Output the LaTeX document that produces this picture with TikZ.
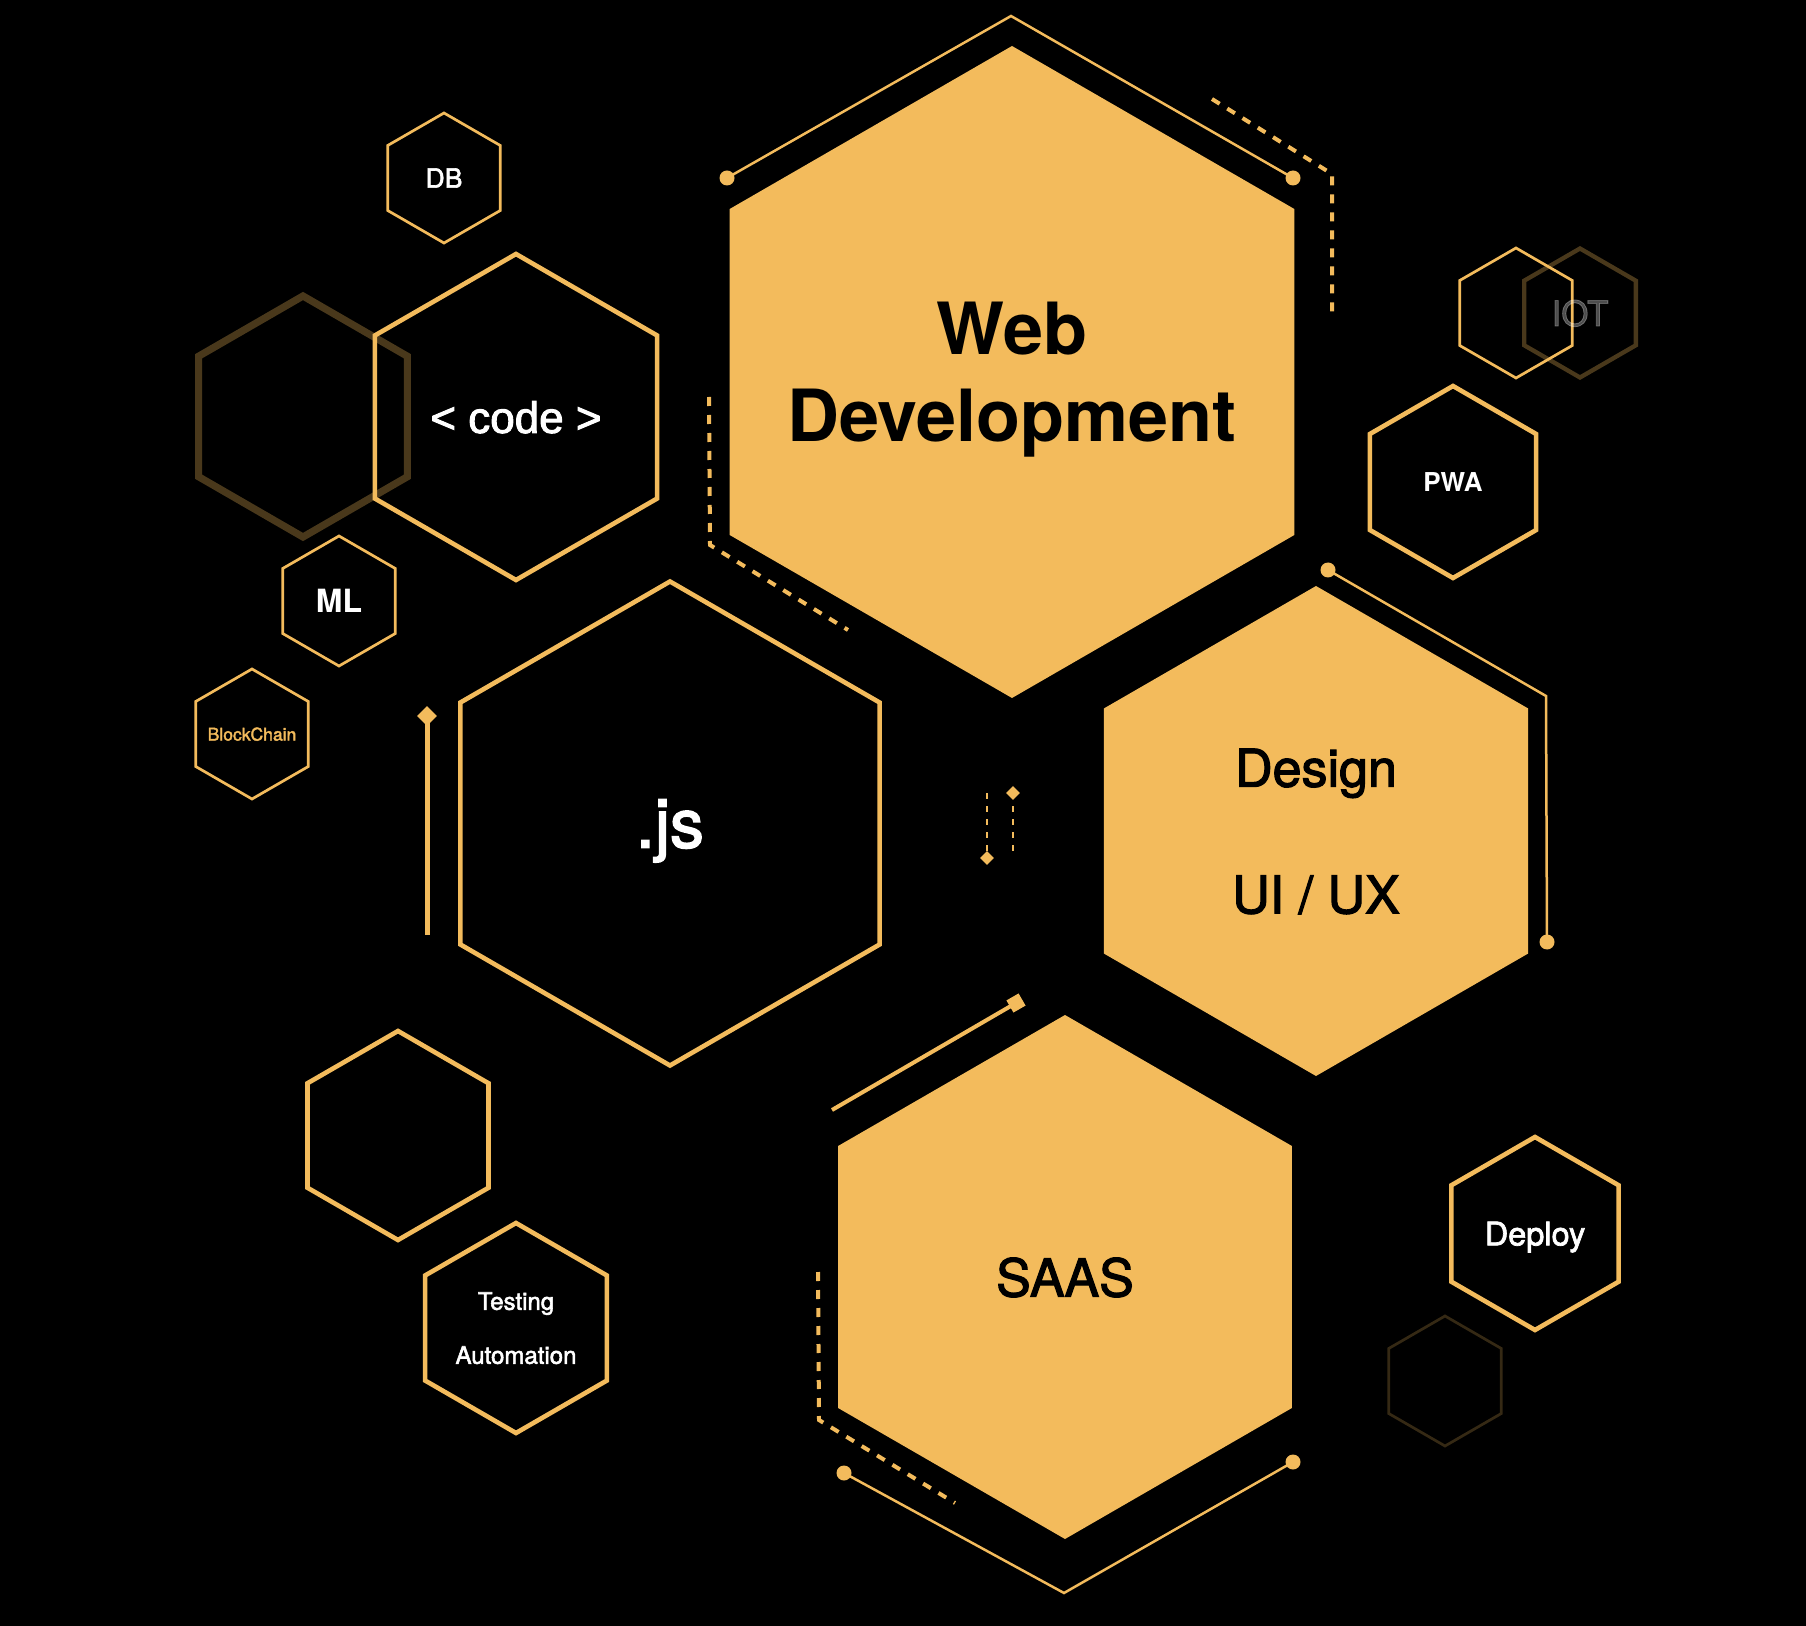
\documentclass[tikz,border=0pt]{standalone}
\usepackage{fontspec}
\setmainfont{TeX Gyre Heros}
\newfontfamily\mediumfont{TeX Gyre Heros}[FakeBold=2.2]
\newfontfamily\codefont{Liberation Sans}[FakeBold=2.2]
\usetikzlibrary{shapes.geometric, calc}
\definecolor{honey}{RGB}{243,187,92}

\tikzset{
  hexa/.style={regular polygon, regular polygon sides=6, shape border rotate=30,
    inner sep=0pt, minimum size=#1pt},
  tag/.style={inner sep=0pt, text depth=0pt, align=center, text=white},
  ring/.style={draw=honey, line width=2.3pt},
  thinring/.style={draw=honey, line width=1.35pt},
  ghost/.style={draw=honey, draw opacity=0.3, line width=3.6pt},
  filledhex/.style={fill=honey},
  trace/.style={honey, line width=1.25pt},
  dots/.style={honey, line width=2pt, dash pattern=on 4.5pt off 4.5pt},
  smalldots/.style={honey, line width=1.25pt, dash pattern=on 3pt off 3.5pt},
  dot/.style={circle, fill=honey, inner sep=0pt, minimum size=7.5pt},
  pin/.style={diamond, fill=honey, inner sep=0pt, minimum width=#1pt, minimum height=#1pt},
}

\begin{document}
\begin{tikzpicture}[x=0.5pt, y=-0.5pt]

  \fill[black] (0,0) rectangle (1806,1626);
  \useasboundingbox (0,0) rectangle (1806,1626);

  % faded hexagons
  \node[hexa=120.5, ghost] (ghostbig) at (303,416.5) {};
  \node[hexa=65, draw=honey, draw opacity=0.22, line width=1.35pt] (ghostlow) at (1445,1381) {};

  % big filled hexagons
  \node[hexa=326, filledhex] (webdev) at (1012,372) {};
  \node[hexa=245, filledhex] (design) at (1316,831) {};
  \node[hexa=262, filledhex] (saas) at (1065,1277) {};
  \node[tag, text=black, font=\bfseries\fontsize{36}{43.5}\selectfont] (webdevtag) at (webdev) {Web\\Development};
  \node[tag, text=black, font=\mediumfont\fontsize{26}{63.3}\selectfont] (designtag) at (design) {Design\\UI / UX};
  \node[tag, text=black, font=\mediumfont\fontsize{26}{31}\selectfont] (saastag) at (saas) {SAAS};

  % outlined hexagons
  \node[hexa=163, ring] (code) at (516,417) {};
  \node[hexa=242, ring] (js) at (670,823.5) {};
  \node[hexa=96, ring] (pwa) at (1453,482) {};
  \node[hexa=104.5, ring] (blank) at (398,1135.5) {};
  \node[hexa=105, ring] (testing) at (516,1328) {};
  \node[hexa=96.5, ring] (deploy) at (1535,1233.5) {};
  \node[tag, font=\codefont\fontsize{22}{26}\selectfont] (codetag) at (code) {< code >};
  \node[tag, font=\mediumfont\fontsize{34}{40}\selectfont] (jstag) at (js) {.js};
  \node[tag, font=\bfseries\fontsize{13}{16}\selectfont] (pwatag) at (pwa) {PWA};
  \node[tag, font=\mediumfont\fontsize{12}{27}\selectfont] (testingtag) at (testing) {Testing\\Automation};
  \node[tag, font=\mediumfont\fontsize{16.25}{19}\selectfont] (deploytag) at (deploy) {Deploy};

  % small hexagons
  \node[hexa=65, thinring] (db) at (444,178) {};
  \node[hexa=65, thinring] (ml) at (339,601) {};
  \node[hexa=65, thinring] (chain) at (252,734) {};
  \node[hexa=65, thinring] (iotback) at (1516,313) {};
  \node[hexa=64.5, ghost, line width=2.15pt] (iot) at (1580,313) {};
  \node[tag, font=\mediumfont\fontsize{13.25}{16}\selectfont] (dbtag) at (db) {DB};
  \node[tag, font=\bfseries\fontsize{16}{19}\selectfont] (mltag) at (ml) {ML};
  \node[tag, text=honey, font=\mediumfont\fontsize{8.75}{10}\selectfont] (chaintag) at (chain) {BlockChain};
  \node[tag, text opacity=0.3, font=\mediumfont\fontsize{17.5}{21}\selectfont] (iottag) at (iot) {IOT};

  % traces round the filled hexagons
  \node[dot] (wdl) at (727,178) {};
  \node[dot] (wdr) at (1293,178) {};
  \coordinate (wdtop) at (1011,16);
  \draw[trace] (wdl.center) -- (wdtop) -- (wdr.center);

  \node[dot] (dsl) at (1328,570) {};
  \node[dot] (dsr) at (1547,942) {};
  \coordinate (dscorner) at (1546,696);
  \draw[trace] (dsl.center) -- (dscorner) -- (dsr.center);

  \node[dot] (sal) at (844,1473) {};
  \node[dot] (sar) at (1293,1462) {};
  \coordinate (sabottom) at (1064,1593);
  \draw[trace] (sal.center) -- (sabottom) -- (sar.center);

  % dashed traces
  \draw[dots] (1212,99) -- (1332,174) -- (1332,313);
  \draw[dots] (709,397) -- (710,545) -- (848,630);
  \draw[dots] (818,1272) -- (819,1420) -- (955,1503);

  % pins
  \node[pin=10] (jspin) at (427,716) {};
  \coordinate (jsfoot) at (427,935);
  \draw[honey, line width=2.5pt] (jspin.center) -- (jsfoot);

  \node[fill=honey, minimum size=7pt, inner sep=0pt, rotate=30] (saastab) at (1016,1003) {};
  \coordinate (saasfoot) at (832,1110);
  \draw[honey, line width=2pt] (saasfoot) -- (saastab.center);

  \node[pin=7] (pinlow) at (987,858) {};
  \node[pin=7] (pinhigh) at (1013,793) {};
  \coordinate (pinlowtop) at (987,793);
  \coordinate (pinhighfoot) at (1013,858);
  \draw[smalldots] (pinlowtop) -- (pinlow.center);
  \draw[smalldots] (pinhigh.center) -- (pinhighfoot);

\end{tikzpicture}
\end{document}
